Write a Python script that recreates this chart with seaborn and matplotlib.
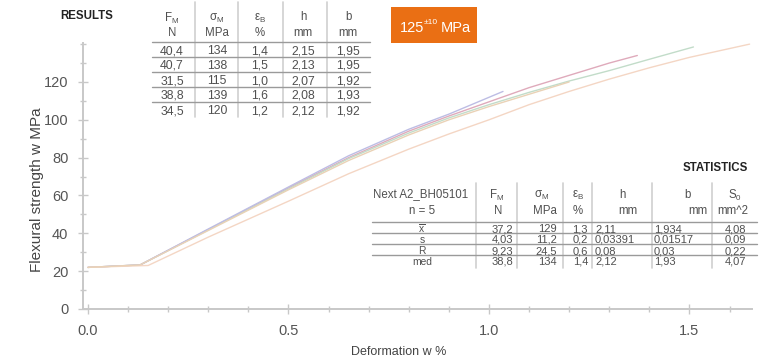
import numpy as np
import pandas as pd
import matplotlib
matplotlib.use("Agg")
import matplotlib.pyplot as plt
import seaborn as sns
from matplotlib.lines import Line2D
from matplotlib.patches import Rectangle
from matplotlib.ticker import MultipleLocator, FixedLocator, FormatStrFormatter

# ---- curve data (deformation %, flexural strength MPa)
s1_x = [0.0, 0.13, 0.30, 0.50, 0.65, 0.80, 0.90, 1.00, 1.10, 1.20, 1.30, 1.37]
s1_y = [22.0, 23.3, 42.0, 64.0, 80.0, 94.0, 102.0, 109.5, 117.0, 123.5, 130.0, 134.0]
s2_x = [0.0, 0.13, 0.30, 0.50, 0.65, 0.80, 0.90, 1.00, 1.10, 1.20, 1.30, 1.40, 1.51]
s2_y = [22.0, 23.3, 41.8, 63.5, 79.5, 93.0, 101.0, 108.0, 114.5, 120.5, 126.0, 132.0, 138.5]
s3_x = [0.0, 0.13, 0.30, 0.50, 0.65, 0.80, 0.90, 1.035]
s3_y = [22.0, 23.3, 42.3, 64.5, 81.0, 95.0, 103.0, 115.0]
s4_x = [0.0, 0.15, 0.30, 0.50, 0.65, 0.80, 0.90, 1.00, 1.10, 1.20, 1.30, 1.40, 1.50, 1.65]
s4_y = [22.0, 23.0, 38.0, 57.0, 71.5, 84.5, 92.5, 100.0, 108.0, 115.0, 121.5, 127.5, 133.0, 140.0]
s5_x = [0.0, 0.13, 0.30, 0.50, 0.65, 0.80, 0.90, 1.00, 1.10, 1.20]
s5_y = [22.0, 23.3, 41.5, 63.0, 78.5, 92.0, 100.0, 107.0, 113.5, 120.0]
sample_names = ["1", "2", "3", "4", "5"]
line_colors = ["#dfaabb", "#c2dcc9", "#bdbde4", "#f4d6c4", "#ead2b6"]

# ---- results table
res_head = ["F$_\\mathregular{M}$", "σ$_\\mathregular{M}$", "ε$_\\mathregular{B}$", "h", "b"]
res_units = ["N", "MPa", "%", "mm", "mm"]
res_fm = ["40,4", "40,7", "31,5", "38,8", "34,5"]
res_sm = ["134", "138", "115", "139", "120"]
res_eb = ["1,4", "1,5", "1,0", "1,6", "1,2"]
res_h = ["2,15", "2,13", "2,07", "2,08", "2,12"]
res_b = ["1,95", "1,95", "1,92", "1,93", "1,92"]

# ---- statistics table
st_head = ["Next A2_BH05101", "F$_\\mathregular{M}$", "σ$_\\mathregular{M}$",
           "ε$_\\mathregular{B}$", "h", "b", "S$_\\mathregular{0}$"]
st_units = ["n = 5", "N", "MPa", "%", "mm", "mm", "mm^2"]
st_labels = ["$\\overline{\\mathregular{x}}$", "s", "R", "med"]
st_fm = ["37,2", "4,03", "9,23", "38,8"]
st_sm = ["129", "11,2", "24,5", "134"]
st_eb = ["1,3", "0,2", "0,6", "1,4"]
st_h = ["2,11", "0,03391", "0,08", "2,12"]
st_b = ["1,934", "0,01517", "0,03", "1,93"]
st_s0 = ["4,08", "0,09", "0,22", "4,07"]

y_major = [0, 20, 40, 60, 80, 100, 120]

frames = []
for name, xs, ys in zip(sample_names, [s1_x, s2_x, s3_x, s4_x, s5_x],
                        [s1_y, s2_y, s3_y, s4_y, s5_y]):
    frames.append(pd.DataFrame({"deformation": xs, "strength": ys, "sample": name}))
df = pd.concat(frames, ignore_index=True)

sns.set_theme(style="white")
plt.rcParams["font.family"] = ["Liberation Sans", "DejaVu Sans"]
narrow = ["Liberation Sans Narrow", "Liberation Sans", "DejaVu Sans"]

W, H = 768, 360
fig = plt.figure(figsize=(7.68, 3.6), dpi=100)
ax = fig.add_axes([83 / W, 1 - 309 / H, 669 / W, 266 / H])

sns.lineplot(data=df, x="deformation", y="strength", hue="sample", palette=line_colors,
             sort=False, estimator=None, lw=1.0, legend=False, ax=ax)

ax.set_xlim(-0.0125, 1.656)
ax.set_ylim(0, 140.6)
ax.xaxis.set_major_locator(MultipleLocator(0.5))
ax.xaxis.set_minor_locator(MultipleLocator(0.1))
ax.yaxis.set_major_locator(FixedLocator(y_major))
ax.yaxis.set_minor_locator(MultipleLocator(10))
ax.xaxis.set_major_formatter(FormatStrFormatter("%.1f"))
for s in ["top", "right"]:
    ax.spines[s].set_visible(False)
for s in ["left", "bottom"]:
    ax.spines[s].set_color("#c8c8c8")
    ax.spines[s].set_linewidth(1.4)
ax.tick_params(which="both", direction="inout", color="#c8c8c8", width=1.0,
               bottom=True, left=True)
ax.tick_params(which="major", length=7, labelsize=10.5, labelcolor="#555555", pad=7)
ax.tick_params(which="minor", length=5)

ax.set_xlabel("Deformation w %", fontsize=9, color="#444444")
ax.set_ylabel("Flexural strength w MPa", fontsize=11, color="#444444")
ax.xaxis.set_label_coords(0.472, -0.14)
ax.yaxis.set_label_coords(-0.058, 0.447)


def fx(px):
    return px / W


def fy(py):
    return 1 - py / H


def hline(x0, x1, y, color="#9a9a9a", lw=1.0):
    fig.add_artist(Line2D([fx(x0), fx(x1)], [fy(y), fy(y)], color=color, lw=lw))


def vline(x, y0, y1, color="#d0d0d0", lw=1.2):
    fig.add_artist(Line2D([fx(x), fx(x)], [fy(y0), fy(y1)], color=color, lw=lw))


tc = "#505050"
fs = 8.3

# ---- RESULTS table
fig.text(fx(87), fy(16), "RESULTS", family=narrow, weight="bold", fontsize=8.3,
         color="#222222", ha="center", va="center")
res_cx = [172, 217, 260, 303, 348]
for xd in [195, 238, 283, 327]:
    vline(xd, 2, 117)
for yl in [42, 57, 72, 87, 102]:
    hline(152, 370, yl)
cols = [res_fm, res_sm, res_eb, res_h, res_b]
for i, cx in enumerate(res_cx):
    fig.text(fx(cx), fy(16), res_head[i], fontsize=fs, color=tc, ha="center",
             va="center_baseline")
    fig.text(fx(cx), fy(32), res_units[i], fontsize=fs, color=tc, ha="center",
             va="center_baseline")
    for j, v in enumerate(cols[i]):
        fig.text(fx(cx), fy(49.5 + 15 * j), v, fontsize=fs + 0.5, color=tc,
                 ha="center", va="center_baseline")

# ---- orange badge
fig.add_artist(Rectangle((fx(391), fy(43)), 86 / W, 36 / H, transform=fig.transFigure,
                         facecolor="#ea6f14", edgecolor="none"))
fig.text(fx(400), fy(27), "125", family=narrow, fontsize=10.5, color="white",
         ha="left", va="center_baseline")
fig.text(fx(424), fy(21), "±10", family=narrow, fontsize=6, color="white",
         ha="left", va="center_baseline")
fig.text(fx(441), fy(27), "MPa", family=narrow, fontsize=10.5, color="white",
         ha="left", va="center_baseline")

# ---- STATISTICS table
fig.text(fx(748), fy(168), "STATISTICS", family=narrow, weight="bold", fontsize=8.3,
         color="#222222", ha="right", va="center")
for xd in [476, 517, 563, 592, 652, 712]:
    vline(xd, 183, 268)
for yl in [222, 233, 244, 255]:
    hline(372, 757, yl)
head_cx = [373, 497, 542, 578, 622, 687, 735]
for i, cx in enumerate(head_cx):
    fig.text(fx(cx), fy(193), st_head[i], fontsize=fs, color=tc,
             ha="left" if i == 0 else "center", va="center_baseline")
unit_rx = [422, 502, 557, 583, 638, 708, 748]
for i, rx in enumerate(unit_rx):
    fig.text(fx(rx), fy(210), st_units[i], fontsize=fs, color=tc,
             ha="center" if i == 0 else "right", va="center_baseline")
st_cols = [st_fm, st_sm, st_eb, st_h, st_b, st_s0]
st_pos = [(513, "right"), (557, "right"), (588, "right"), (595, "left"),
          (654, "left"), (746, "right")]
for j in range(4):
    yy = 228 + 11 * j
    fig.text(fx(422), fy(yy), st_labels[j], fontsize=7.4, color=tc, ha="center",
             va="center_baseline")
    for (px, ha), col in zip(st_pos, st_cols):
        fig.text(fx(px), fy(yy), col[j], fontsize=8, color=tc, ha=ha,
                 va="center_baseline")

fig.savefig("out.png", dpi=100)
plt.close(fig)
